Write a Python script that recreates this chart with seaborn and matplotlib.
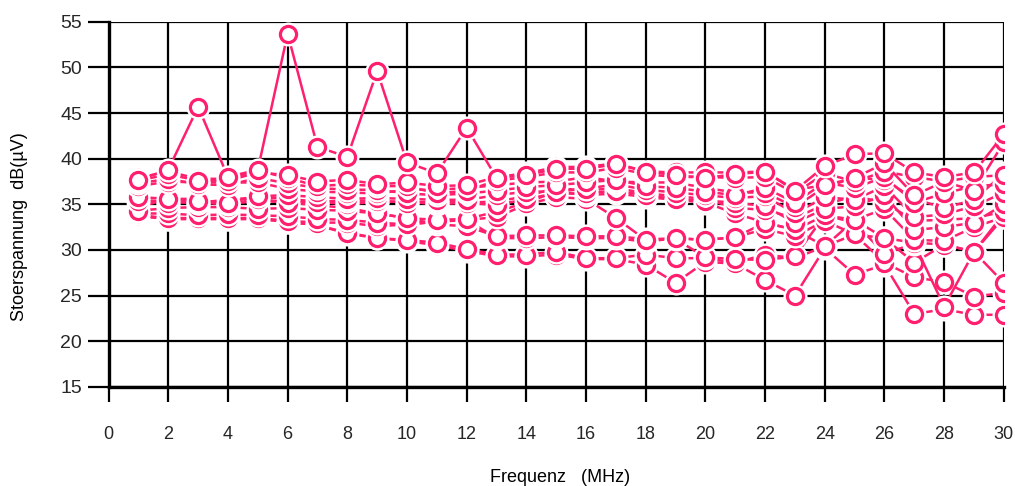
import matplotlib
matplotlib.use("Agg")
import matplotlib.pyplot as plt
import seaborn as sns
import numpy as np
import pandas as pd

# ---------------- data ----------------
freq = list(range(1, 31))

s01 = [37.7, 38.8, 45.7, 38.0, 38.8, 53.7, 41.3, 40.2, 49.6, 39.6, 38.4, 43.4, 37.9, 38.2, 38.9,
       38.9, 39.4, 38.6, 38.2, 37.9, 38.3, 38.6, 36.5, 39.2, 40.5, 40.6, 38.5, 38.0, 38.5, 42.7]
s02 = [37.6, 38.3, 37.6, 37.6, 38.5, 38.2, 37.5, 37.7, 37.2, 37.4, 37.0, 37.1, 38.0, 38.4, 39.1,
       39.1, 39.5, 38.6, 38.5, 38.5, 38.5, 38.6, 36.6, 37.1, 37.9, 39.5, 36.0, 37.5, 36.5, 41.8]
s03 = [37.9, 38.6, 37.8, 37.8, 38.7, 37.9, 37.0, 37.2, 37.0, 37.0, 36.2, 36.5, 37.6, 38.0, 38.5,
       38.5, 39.0, 38.3, 38.0, 38.0, 37.9, 38.0, 36.2, 38.4, 37.5, 38.6, 38.0, 37.5, 38.0, 38.2]
s04 = [37.0, 37.5, 37.4, 37.4, 37.4, 36.7, 36.4, 36.3, 36.2, 36.6, 36.6, 36.8, 37.1, 37.4, 37.5,
       38.0, 37.5, 37.4, 37.4, 36.8, 36.3, 36.3, 34.7, 36.9, 37.9, 37.7, 35.6, 34.6, 35.5, 38.4]
s05 = [35.8, 35.6, 35.4, 35.2, 35.9, 36.0, 35.8, 35.6, 35.7, 35.6, 35.5, 35.5, 36.0, 36.4, 36.4,
       36.7, 37.2, 36.6, 36.3, 36.0, 35.7, 35.9, 34.0, 35.8, 35.5, 37.0, 33.6, 33.9, 34.8, 36.3]
s06 = [35.4, 35.2, 35.2, 35.0, 35.6, 35.2, 35.3, 35.4, 35.4, 35.2, 35.3, 35.2, 34.9, 35.6, 36.2,
       36.2, 36.5, 36.0, 35.6, 35.4, 35.2, 34.8, 33.0, 34.5, 34.8, 36.0, 32.2, 32.5, 33.0, 35.0]
s07 = [35.5, 35.3, 35.2, 35.5, 35.8, 35.6, 35.3, 35.0, 35.3, 35.3, 35.0, 35.2, 35.3, 35.9, 36.8,
       36.5, 36.8, 36.2, 35.9, 35.6, 34.6, 34.4, 33.5, 35.0, 35.9, 35.2, 33.2, 33.3, 33.5, 34.2]
s08 = [34.3, 34.6, 34.7, 34.7, 34.5, 34.6, 34.4, 34.3, 34.0, 33.5, 33.3, 33.4, 34.2, 35.2, 36.4,
       36.0, 36.2, 35.8, 35.5, 35.2, 34.0, 33.0, 32.2, 33.8, 33.3, 34.5, 31.1, 31.0, 32.5, 33.6]
s09 = [34.0, 34.0, 33.8, 33.9, 33.8, 33.7, 33.4, 33.3, 33.0, 32.8, 33.1, 33.3, 33.6, 35.0, 35.8,
       35.6, 33.5, 31.1, 31.3, 31.1, 31.4, 32.3, 31.5, 33.2, 31.7, 31.3, 30.8, 30.6, 29.8, 34.0]
s10 = [33.8, 33.5, 33.5, 33.5, 33.5, 33.2, 33.0, 33.0, 32.6, 32.8, 33.1, 33.3, 31.3, 31.3, 31.4,
       31.3, 31.3, 30.9, 31.3, 31.1, 31.4, 33.0, 32.2, 30.4, 33.3, 31.3, 28.6, 30.6, 29.8, 33.6]
s11 = [33.8, 33.4, 33.4, 33.4, 33.4, 33.1, 32.7, 31.9, 31.3, 31.1, 30.8, 30.1, 29.5, 29.5, 29.8,
       29.1, 29.1, 29.5, 29.1, 29.1, 28.6, 29.5, 29.1, 30.4, 31.7, 28.6, 27.0, 26.5, 24.9, 25.3]
s12 = [33.7, 33.4, 33.4, 33.4, 33.4, 33.1, 32.7, 31.8, 31.3, 31.0, 30.5, 29.9, 29.3, 29.3, 29.5,
       29.0, 29.0, 28.4, 26.4, 28.7, 28.5, 26.7, 25.0, 30.2, 27.3, 28.4, 23.0, 23.5, 22.9, 22.9]
s13 = [37.3, 37.8, 37.2, 37.1, 37.9, 37.3, 36.8, 36.6, 36.6, 36.2, 36.0, 36.2, 36.5, 36.9, 37.1,
       37.4, 37.7, 37.0, 36.8, 36.4, 36.0, 36.8, 35.2, 37.4, 36.8, 38.0, 35.2, 36.2, 37.0, 37.2]
s14 = [34.7, 35.6, 35.6, 35.0, 35.4, 35.2, 34.9, 34.6, 34.0, 33.5, 32.8, 32.6, 31.5, 31.6, 31.6,
       31.5, 31.5, 31.2, 31.2, 29.2, 29.0, 28.9, 29.3, 33.8, 33.0, 29.6, 30.7, 23.8, 29.8, 26.4]

series = [s12, s11, s10, s14, s09, s08, s07, s06, s05, s04, s13, s03, s02, s01]

pink = "#FF1F6E"

sns.set_theme(style="white")
plt.rcParams["font.family"] = ["Liberation Sans", "DejaVu Sans"]

fig = plt.figure(figsize=(10.15, 4.86), dpi=100)
ax = fig.add_axes([0.107, 0.204, 0.882, 0.751])

for i, vals in enumerate(series):
    df = pd.DataFrame({"f": freq, "v": vals})
    base = 3 + 3 * i
    sns.lineplot(data=df, x="f", y="v", ax=ax, color=pink, linewidth=1.8,
                 zorder=base, legend=False)
    sns.scatterplot(data=df, x="f", y="v", ax=ax, color="white", s=300,
                    linewidth=0, zorder=base + 1, legend=False)
    sns.scatterplot(data=df, x="f", y="v", ax=ax, facecolor="white", edgecolor=pink,
                    s=135, linewidth=2.3, zorder=base + 2, legend=False)

ax.set_xlim(0, 30)
ax.set_ylim(15, 55)
ax.set_xticks(np.arange(0, 31, 2))
ax.set_yticks(np.arange(15, 56, 5))
ax.grid(True, color="black", linewidth=1.6)
ax.set_axisbelow(True)

for side in ["top", "right"]:
    ax.spines[side].set_visible(False)
for side in ["left", "bottom"]:
    ax.spines[side].set_color("black")
    ax.spines[side].set_linewidth(2.4)

ax.tick_params(axis="x", which="major", direction="out", length=11, width=1.6,
               color="black", pad=17, labelsize=13, bottom=True)
ax.tick_params(axis="y", which="major", direction="out", length=15, width=1.6,
               color="black", pad=4, labelsize=14, left=True)

ax.set_xlabel("Frequenz   (MHz)", fontsize=13, color="black")
ax.set_ylabel("Stoerspannung  dB(µV)", fontsize=13, color="black")
ax.xaxis.set_label_coords(0.504, -0.225)
ax.yaxis.set_label_coords(-0.09, 0.44)

fig.savefig("out.png", dpi=100, facecolor="white")
